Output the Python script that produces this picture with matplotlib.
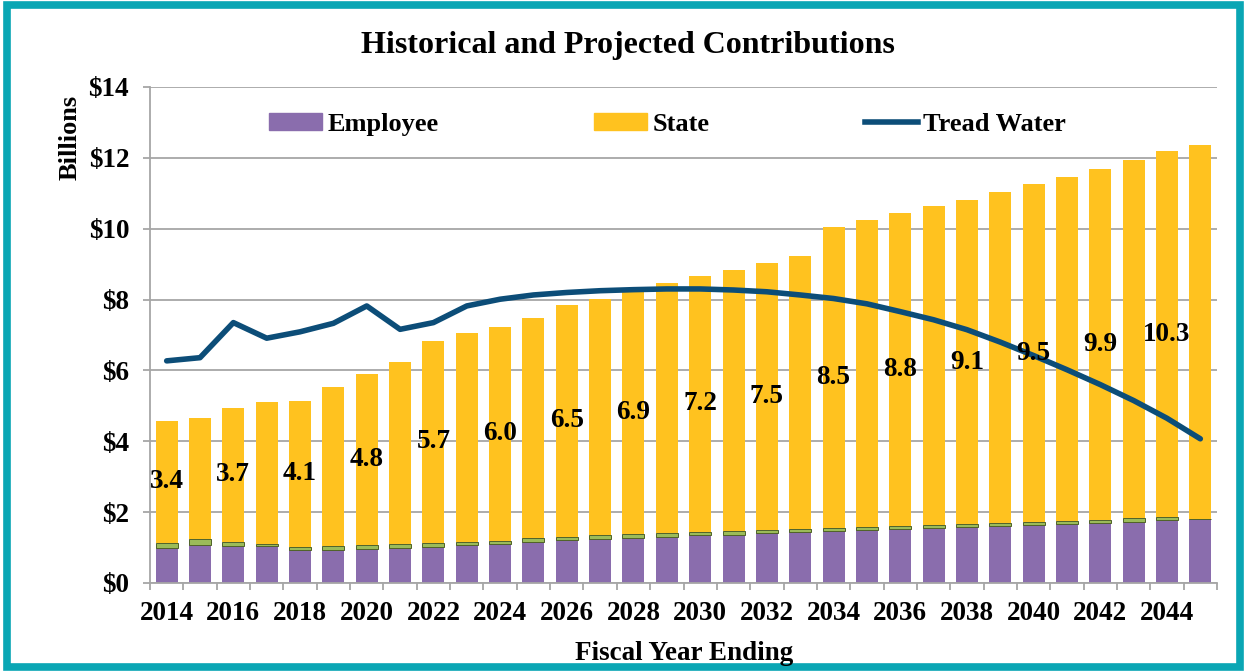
import numpy as np
import matplotlib
matplotlib.use("Agg")
import matplotlib.pyplot as plt
from matplotlib.patches import Rectangle, Patch
from matplotlib.lines import Line2D

plt.rcParams['font.family'] = ['Liberation Serif', 'DejaVu Serif']
plt.rcParams['font.weight'] = 'bold'

years = list(range(2014, 2046))
employee = [1.00, 1.07, 1.04, 1.04, 0.94, 0.94, 0.97, 1.00, 1.03, 1.06,
            1.10, 1.17, 1.20, 1.24, 1.27, 1.31, 1.35, 1.36, 1.40, 1.43,
            1.46, 1.49, 1.52, 1.54, 1.58, 1.61, 1.64, 1.67, 1.69, 1.73,
            1.78, 1.80]
other = [0.14, 0.17, 0.13, 0.06, 0.08, 0.10, 0.09, 0.10, 0.11, 0.10,
         0.09, 0.09, 0.11, 0.11, 0.11, 0.11, 0.10, 0.11, 0.10, 0.10,
         0.10, 0.10, 0.10, 0.11, 0.09, 0.09, 0.08, 0.08, 0.09, 0.10,
         0.07, 0.00]
state = [3.43, 3.42, 3.77, 4.01, 4.12, 4.49, 4.84, 5.14, 5.69, 5.90,
         6.04, 6.22, 6.54, 6.67, 6.86, 7.05, 7.21, 7.36, 7.53, 7.70,
         8.49, 8.66, 8.82, 8.99, 9.13, 9.34, 9.54, 9.71, 9.90, 10.11,
         10.33, 10.56]
tread_water = [6.27, 6.36, 7.35, 6.91, 7.09, 7.33, 7.82, 7.16, 7.35, 7.82,
               8.01, 8.13, 8.20, 8.25, 8.28, 8.30, 8.30, 8.27, 8.22, 8.13,
               8.03, 7.88, 7.66, 7.43, 7.15, 6.80, 6.42, 6.02, 5.60, 5.15,
               4.65, 4.07]
state_labels = ['3.4', '', '3.7', '', '4.1', '', '4.8', '', '5.7', '', '6.0', '',
                '6.5', '', '6.9', '', '7.2', '', '7.5', '', '8.5', '', '8.8', '',
                '9.1', '', '9.5', '', '9.9', '', '10.3', '']

c_emp = '#8A6DAD'
c_state = '#FFC21F'
c_other = '#9BBB59'
c_line = '#0C4D78'
c_grid = '#A6A6A6'

fig = plt.figure(figsize=(12.47, 6.72), dpi=100, facecolor='w')
ax = fig.add_axes([150 / 1247, (672 - 583) / 672, (1217 - 150) / 1247, (583 - 87) / 672])

x = np.array(years)
ax.bar(x, employee, width=0.66, color=c_emp, zorder=2)
ax.bar(x, other, width=0.66, bottom=employee, color=c_other,
       edgecolor='#4F6228', linewidth=0.7, zorder=2)
base = np.array(employee) + np.array(other)
st = ax.bar(x, state, width=0.66, bottom=base, color=c_state, zorder=2)
ax.bar_label(st, labels=state_labels, label_type='center', fontsize=19.5,
             fontweight='bold', color='black', zorder=4)
ax.plot(x, tread_water, color=c_line, lw=4.0, solid_capstyle='round', zorder=3)

ax.set_xlim(2013.5, 2045.5)
ax.set_ylim(0, 14)
ax.set_yticks(np.arange(0, 15, 2))
ax.set_yticklabels(['$%d' % v for v in range(0, 15, 2)])
ax.set_xticks(np.arange(2014, 2045, 2))
ax.set_xticks(np.arange(2013.5, 2046, 1), minor=True)
ax.yaxis.grid(True, color=c_grid, lw=1.3, zorder=0)
ax.set_axisbelow(True)
for s in ['top', 'right']:
    ax.spines[s].set_visible(False)
for s in ['left', 'bottom']:
    ax.spines[s].set_color(c_grid)
    ax.spines[s].set_linewidth(1.3)
ax.tick_params(axis='y', length=5, color=c_grid, width=1.3, pad=10, labelsize=19.5)
ax.tick_params(axis='x', which='major', length=0, pad=13, labelsize=19.5)
ax.tick_params(axis='x', which='minor', length=5, color=c_grid, width=1.3)

handles = [Patch(color=c_emp), Patch(color=c_state), Line2D([], [], color=c_line, lw=4.0)]
ax.legend(handles, ['Employee', 'State', 'Tread Water'], ncol=3, frameon=False,
          loc='center', bbox_to_anchor=(0.485, 0.925), fontsize=19,
          columnspacing=5.9, handlelength=2.0, handletextpad=0.2, handleheight=0.6)

fig.text(628 / 1247, 1 - 45 / 672, 'Historical and Projected Contributions',
         ha='center', va='center', fontsize=23, fontweight='bold')
fig.text(70 / 1247, 1 - 137 / 672, 'Billions', rotation=90,
         ha='center', va='center', fontsize=19, fontweight='bold')
fig.text(684 / 1247, 1 - 653 / 672, 'Fiscal Year Ending',
         ha='center', va='center', fontsize=19.5, fontweight='bold')

fig.patches.append(Rectangle((0.0055, 0.008), 0.989, 0.984, transform=fig.transFigure,
                             fill=False, edgecolor='#0AA6B4', lw=5.5))

fig.savefig('out.png', dpi=100, facecolor=fig.get_facecolor())
